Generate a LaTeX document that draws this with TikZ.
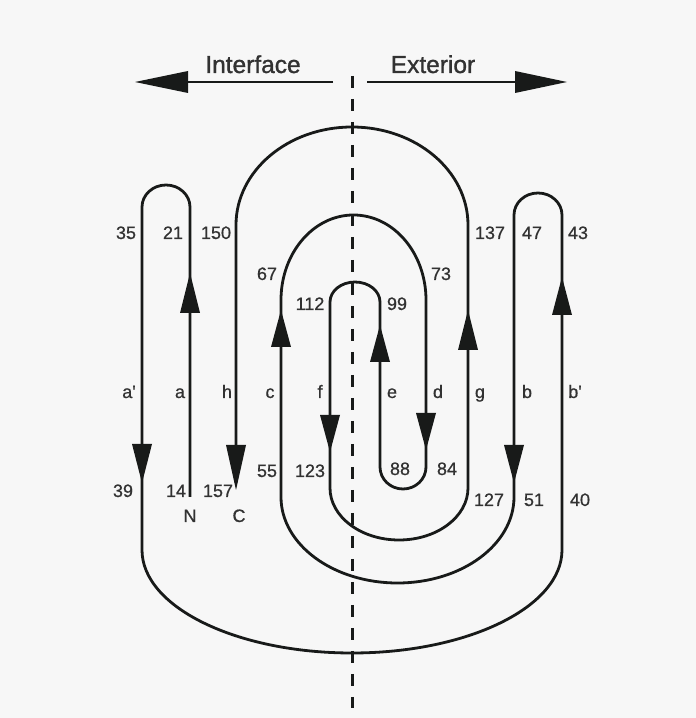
\documentclass[tikz,border=0pt]{standalone}
\usepackage{fontspec}
\setmainfont{Liberation Sans}
\newfontfamily\lblfont{Liberation Sans}[FakeBold=0.7]
\newfontfamily\hdrfont{Liberation Sans}[FakeBold=1.2]
\definecolor{bg}{RGB}{247,247,247}
\definecolor{ink}{RGB}{24,26,25}
\definecolor{txt}{RGB}{50,50,50}
\newcommand\sarrow[3]{\fill[ahead] ({#1-10},#2) -- ({#1+10},#2) -- (#1,#3) -- cycle;}
\begin{document}
\begin{tikzpicture}[x=1pt,y=1pt,
  strand/.style={line width=2.8pt, draw=ink, line join=round},
  ahead/.style={fill=ink},
  num/.style={font=\lblfont\fontsize{18}{18}\selectfont, text=txt, anchor=base, inner sep=0pt},
  hdr/.style={font=\hdrfont\fontsize{24.5}{25}\selectfont, text=txt, anchor=base, inner sep=0pt},
  axis/.style={line width=2.4pt, draw=ink}]
\fill[bg] (0,0) rectangle (696,718);
\useasboundingbox (0,0) rectangle (696,718);
% membrane boundary
\coordinate (mtop) at (352,642);
\coordinate (mbot) at (352,10);
\draw[line width=3pt, dash pattern=on 12pt off 11pt, draw=ink] (mtop) -- (mbot);
% header
\node[hdr] (interface) at (253,645) {Interface};
\node[hdr] (exterior) at (433,645) {Exterior};
\coordinate (la) at (333,636);
\coordinate (lb) at (188,636);
\coordinate (ra) at (367,636);
\coordinate (rb) at (515,636);
\draw[axis] (la) -- (lb);
\draw[axis] (ra) -- (rb);
\fill[ink] (188,647) -- (188,625) -- (135,636) -- cycle;
\fill[ink] (515,647) -- (515,625) -- (567,636) -- cycle;
% chain
\coordinate (Nend) at (190,221);
\coordinate (Cend) at (236,235);
\draw[strand] (Nend) -- (190,511) arc[start angle=0,end angle=180,x radius=24,y radius=22]
  -- (142,168) arc[start angle=180,end angle=360,x radius=210,y radius=103]
  -- (562,503) arc[start angle=0,end angle=180,x radius=24,y radius=22]
  -- (514,221) arc[start angle=0,end angle=-180,x radius=116.5,y radius=86]
  -- (281,418) arc[start angle=180,end angle=0,x radius=72.5,y radius=85]
  -- (426,251) arc[start angle=0,end angle=-180,x radius=23,y radius=22]
  -- (380,416) arc[start angle=0,end angle=180,x radius=25,y radius=20]
  -- (330,230) arc[start angle=180,end angle=360,x radius=69,y radius=52]
  -- (468,493) arc[start angle=0,end angle=180,x radius=116,y radius=98]
  -- (Cend);
% strand arrowheads
\sarrow{190}{405}{445}
\sarrow{142}{274}{235}
\sarrow{236}{273}{228}
\sarrow{281}{371}{408}
\sarrow{330}{303}{266}
\sarrow{380}{356}{393}
\sarrow{426}{305}{268}
\sarrow{468}{368}{408}
\sarrow{514}{273}{235}
\sarrow{562}{403}{441}
% residue numbers
\node[num] (n35) at (126,479) {35};
\node[num] (n21) at (173,479) {21};
\node[num] (n150) at (216,479) {150};
\node[num] (n137) at (490,479) {137};
\node[num] (n47) at (532,479) {47};
\node[num] (n43) at (578,479) {43};
\node[num] (n67) at (267,438) {67};
\node[num] (n73) at (441,438) {73};
\node[num] (n112) at (310,408) {112};
\node[num] (n99) at (397,408) {99};
\node[num] (n55) at (267,241) {55};
\node[num] (n123) at (310,241) {123};
\node[num] (n88) at (400,243) {88};
\node[num] (n84) at (447,243) {84};
\node[num] (n39) at (123,221) {39};
\node[num] (n14) at (176,221) {14};
\node[num] (n157) at (218,221) {157};
\node[num] (n127) at (489,212) {127};
\node[num] (n51) at (534,212) {51};
\node[num] (n40) at (580,212) {40};
\node[num] (tN) at (190,196) {N};
\node[num] (tC) at (239,196) {C};
% strand letters
\node[num] (sap) at (129,320) {a'};
\node[num] (sa) at (180,320) {a};
\node[num] (sh) at (227,320) {h};
\node[num] (sc) at (270,320) {c};
\node[num] (sf) at (320,320) {f};
\node[num] (se) at (392,320) {e};
\node[num] (sd) at (438,320) {d};
\node[num] (sg) at (480,320) {g};
\node[num] (sb) at (527,320) {b};
\node[num] (sbp) at (575,320) {b'};
\end{tikzpicture}
\end{document}
